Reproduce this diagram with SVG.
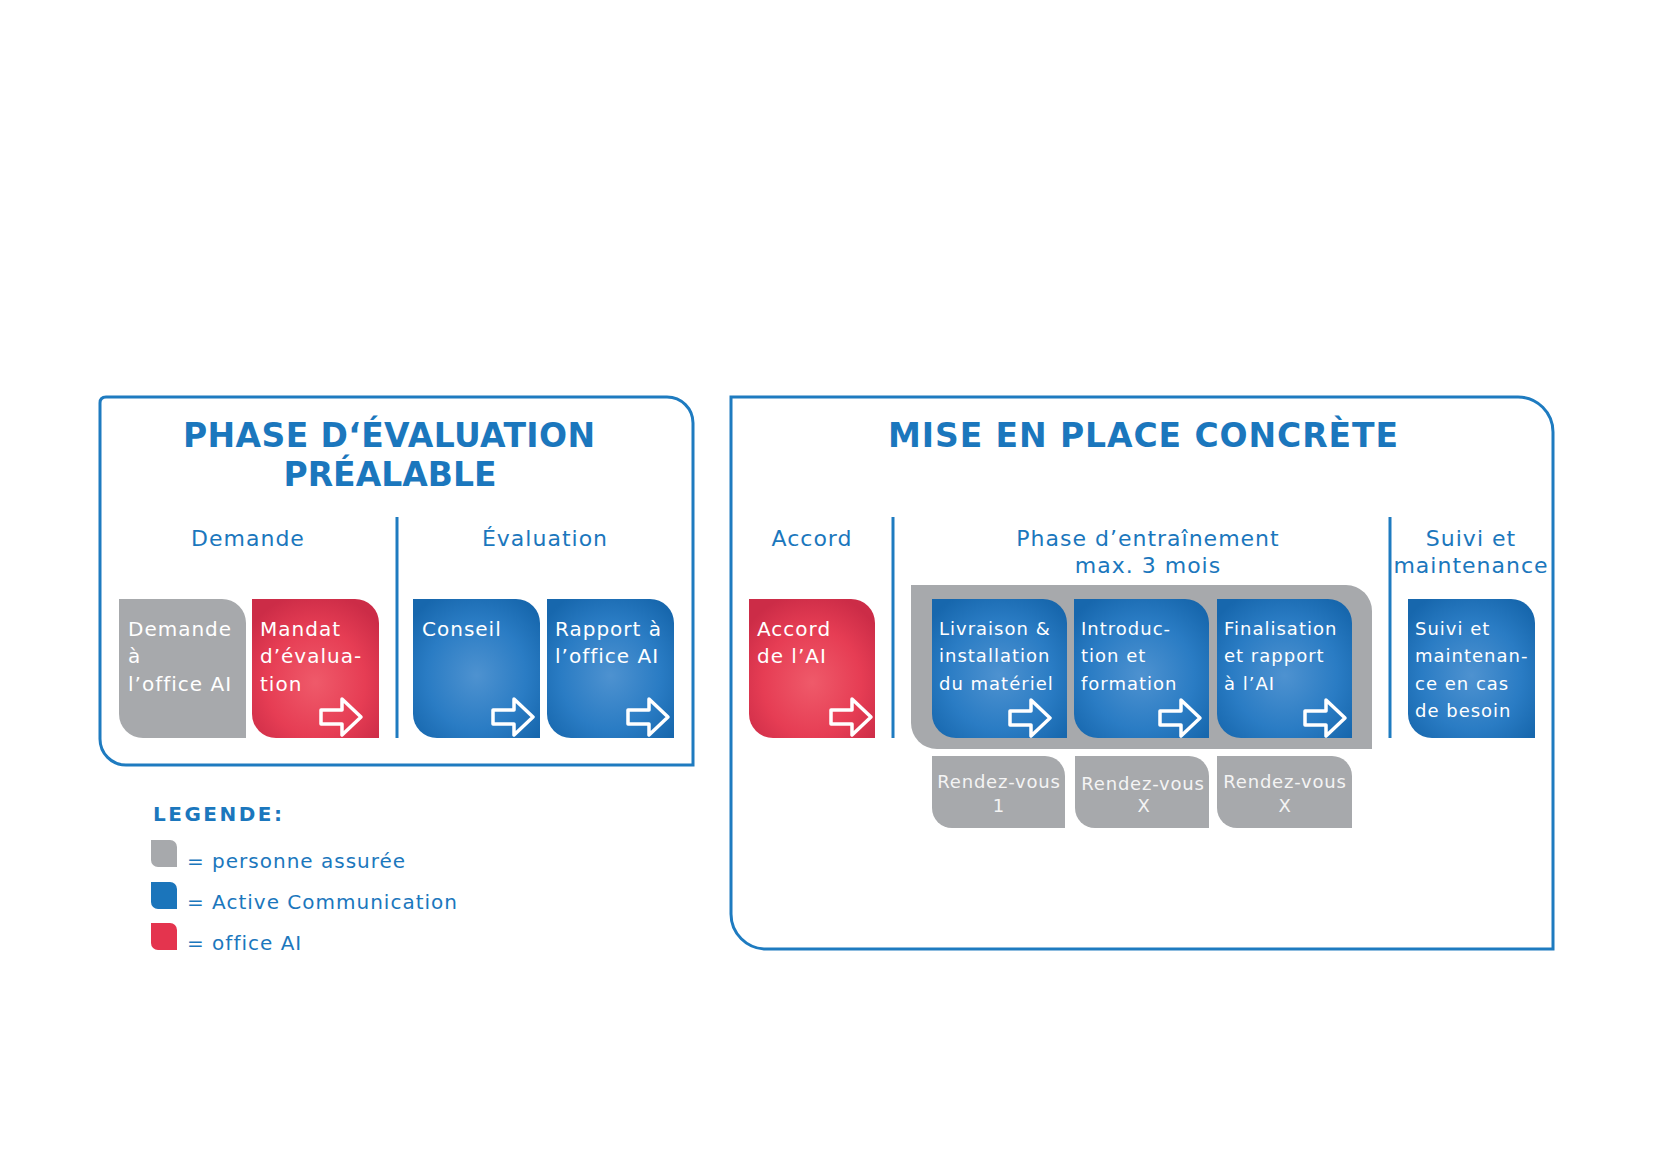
<svg xmlns="http://www.w3.org/2000/svg" xmlns:xlink="http://www.w3.org/1999/xlink" width="1654" height="1166" viewBox="0 0 1654 1166">
<style>
.frame{fill:none;stroke:#1e7bc0;stroke-width:3}
.div{stroke:#1e7bc0;stroke-width:3}
.title{font-family:"DejaVu Sans",Verdana,sans-serif;font-weight:bold;font-size:33px;fill:#1b77bd}
.sub{font-family:"DejaVu Sans",Verdana,sans-serif;font-size:22px;fill:#1b77bd;letter-spacing:1px}
.bt{font-family:"DejaVu Sans",Verdana,sans-serif;font-size:20px;fill:#ffffff;letter-spacing:1px}
.bs{font-family:"DejaVu Sans",Verdana,sans-serif;font-size:18px;fill:#ffffff;letter-spacing:1px}
.rv{font-family:"DejaVu Sans",Verdana,sans-serif;font-size:18px;fill:#f4f4f4;letter-spacing:0.8px}
.leg{font-family:"DejaVu Sans",Verdana,sans-serif;font-size:20px;fill:#1b77bd;letter-spacing:1px}
.legh{font-family:"DejaVu Sans",Verdana,sans-serif;font-weight:bold;font-size:20px;fill:#1b77bd;letter-spacing:2.5px}
.gray{fill:#a7a9ac}
.blue{fill:url(#gBlue)}
.red{fill:url(#gRed)}
.arr{fill:none;stroke:#ffffff;stroke-width:3.5;stroke-linejoin:round}
</style>
<defs>
<radialGradient id="gBlue" cx="50%" cy="55%" r="65%">
<stop offset="0" stop-color="#4e92d0"/>
<stop offset="0.6" stop-color="#2a7cc4"/>
<stop offset="1" stop-color="#1767ad"/>
</radialGradient>
<radialGradient id="gRed" cx="50%" cy="60%" r="65%">
<stop offset="0" stop-color="#ef5a6a"/>
<stop offset="0.6" stop-color="#e63d54"/>
<stop offset="1" stop-color="#cc2c47"/>
</radialGradient>
<path id="arrow" class="arr" d="M0 11 H21 V0 L40 18 L21 36 V25 H0 Z"/>
</defs>
<rect width="1654" height="1166" fill="#ffffff"/>

<g id="frame-left">
<path class="frame" d="M100 403 Q100 397 106 397 H667 A26 26 0 0 1 693 423 V765 H126 A26 26 0 0 1 100 739 Z"/>
<text class="title" x="389" y="447" text-anchor="middle" textLength="412" lengthAdjust="spacing">PHASE D‘ÉVALUATION</text>
<text class="title" x="390" y="486" text-anchor="middle" textLength="213" lengthAdjust="spacing">PRÉALABLE</text>
<text class="sub" x="248" y="546" text-anchor="middle">Demande</text>
<text class="sub" x="545" y="546" text-anchor="middle">Évaluation</text>
<line class="div" x1="397" y1="517" x2="397" y2="738"/>
</g>

<g id="frame-right">
<path class="frame" d="M731 397 H1518 A35 35 0 0 1 1553 432 V949 H766 A35 35 0 0 1 731 914 Z"/>
<text class="title" x="1143" y="447" text-anchor="middle" textLength="510" lengthAdjust="spacing">MISE EN PLACE CONCRÈTE</text>
<text class="sub" x="812" y="546" text-anchor="middle">Accord</text>
<text class="sub" x="1148" y="546" text-anchor="middle">Phase d’entraînement</text>
<text class="sub" x="1148" y="573" text-anchor="middle">max. 3 mois</text>
<text class="sub" x="1471" y="546" text-anchor="middle">Suivi et</text>
<text class="sub" x="1471" y="573" text-anchor="middle">maintenance</text>
<line class="div" x1="893" y1="517" x2="893" y2="738"/>
<line class="div" x1="1390" y1="517" x2="1390" y2="738"/>
</g>

<g id="node-demande">
<path class="gray" d="M119 599 H222 A24 24 0 0 1 246 623 V738 H143 A24 24 0 0 1 119 714 Z"/>
<text class="bt" x="128" y="636">Demande</text>
<text class="bt" x="128" y="663">à</text>
<text class="bt" x="128" y="691">l’office AI</text>
</g>

<g id="node-mandat">
<path class="red" d="M252 599 H355 A24 24 0 0 1 379 623 V738 H276 A24 24 0 0 1 252 714 Z"/>
<text class="bt" x="260" y="636">Mandat</text>
<text class="bt" x="260" y="663">d’évalua-</text>
<text class="bt" x="260" y="691">tion</text>
<use xlink:href="#arrow" x="321" y="699"/>
</g>

<g id="node-conseil">
<path class="blue" d="M413 599 H516 A24 24 0 0 1 540 623 V738 H437 A24 24 0 0 1 413 714 Z"/>
<text class="bt" x="422" y="636">Conseil</text>
<use xlink:href="#arrow" x="493" y="699"/>
</g>

<g id="node-rapport">
<path class="blue" d="M547 599 H650 A24 24 0 0 1 674 623 V738 H571 A24 24 0 0 1 547 714 Z"/>
<text class="bt" x="555" y="636">Rapport à</text>
<text class="bt" x="555" y="663">l’office AI</text>
<use xlink:href="#arrow" x="628" y="699"/>
</g>

<g id="node-accord">
<path class="red" d="M749 599 H851 A24 24 0 0 1 875 623 V738 H773 A24 24 0 0 1 749 714 Z"/>
<text class="bt" x="757" y="636">Accord</text>
<text class="bt" x="757" y="663">de l’AI</text>
<use xlink:href="#arrow" x="831" y="699"/>
</g>

<g id="node-training">
<path class="gray" d="M911 585 H1346 A26 26 0 0 1 1372 611 V749 H937 A26 26 0 0 1 911 723 Z"/>
</g>

<g id="node-livraison">
<path class="blue" d="M932 599 H1043 A24 24 0 0 1 1067 623 V738 H956 A24 24 0 0 1 932 714 Z"/>
<text class="bs" x="939" y="635">Livraison &amp;</text>
<text class="bs" x="939" y="662">installation</text>
<text class="bs" x="939" y="690">du matériel</text>
<use xlink:href="#arrow" x="1010" y="700"/>
</g>

<g id="node-introduction">
<path class="blue" d="M1074 599 H1185 A24 24 0 0 1 1209 623 V738 H1098 A24 24 0 0 1 1074 714 Z"/>
<text class="bs" x="1081" y="635">Introduc-</text>
<text class="bs" x="1081" y="662">tion et</text>
<text class="bs" x="1081" y="690">formation</text>
<use xlink:href="#arrow" x="1160" y="700"/>
</g>

<g id="node-finalisation">
<path class="blue" d="M1217 599 H1328 A24 24 0 0 1 1352 623 V738 H1241 A24 24 0 0 1 1217 714 Z"/>
<text class="bs" x="1224" y="635">Finalisation</text>
<text class="bs" x="1224" y="662">et rapport</text>
<text class="bs" x="1224" y="690">à l’AI</text>
<use xlink:href="#arrow" x="1305" y="700"/>
</g>

<g id="node-suivi">
<path class="blue" d="M1408 599 H1511 A24 24 0 0 1 1535 623 V738 H1432 A24 24 0 0 1 1408 714 Z"/>
<text class="bs" x="1415" y="635">Suivi et</text>
<text class="bs" x="1415" y="662">maintenan-</text>
<text class="bs" x="1415" y="690">ce en cas</text>
<text class="bs" x="1415" y="717">de besoin</text>
</g>

<g id="node-rdv1">
<path class="gray" d="M932 756 H1045 A20 20 0 0 1 1065 776 V828 H952 A20 20 0 0 1 932 808 Z"/>
<text class="rv" x="999" y="788" text-anchor="middle">Rendez-vous</text>
<text class="rv" x="999" y="812" text-anchor="middle">1</text>
</g>

<g id="node-rdv2">
<path class="gray" d="M1075 756 H1189 A20 20 0 0 1 1209 776 V828 H1095 A20 20 0 0 1 1075 808 Z"/>
<text class="rv" x="1143" y="790" text-anchor="middle">Rendez-vous</text>
<text class="rv" x="1144" y="812" text-anchor="middle">X</text>
</g>

<g id="node-rdv3">
<path class="gray" d="M1217 756 H1332 A20 20 0 0 1 1352 776 V828 H1237 A20 20 0 0 1 1217 808 Z"/>
<text class="rv" x="1285" y="788" text-anchor="middle">Rendez-vous</text>
<text class="rv" x="1285" y="812" text-anchor="middle">X</text>
</g>

<g id="legend">
<text class="legh" x="153" y="821">LEGENDE:</text>
<path class="gray" d="M151 840 H170 A7 7 0 0 1 177 847 V867 H158 A7 7 0 0 1 151 860 Z"/>
<text class="leg" x="187" y="868">= personne assurée</text>
<path fill="#1b75bb" d="M151 882 H170 A7 7 0 0 1 177 889 V909 H158 A7 7 0 0 1 151 902 Z"/>
<text class="leg" x="187" y="909">= Active Communication</text>
<path fill="#e4344e" d="M151 923 H170 A7 7 0 0 1 177 930 V950 H158 A7 7 0 0 1 151 943 Z"/>
<text class="leg" x="187" y="950">= office AI</text>
</g>

<g id="connectors"></g>
</svg>
